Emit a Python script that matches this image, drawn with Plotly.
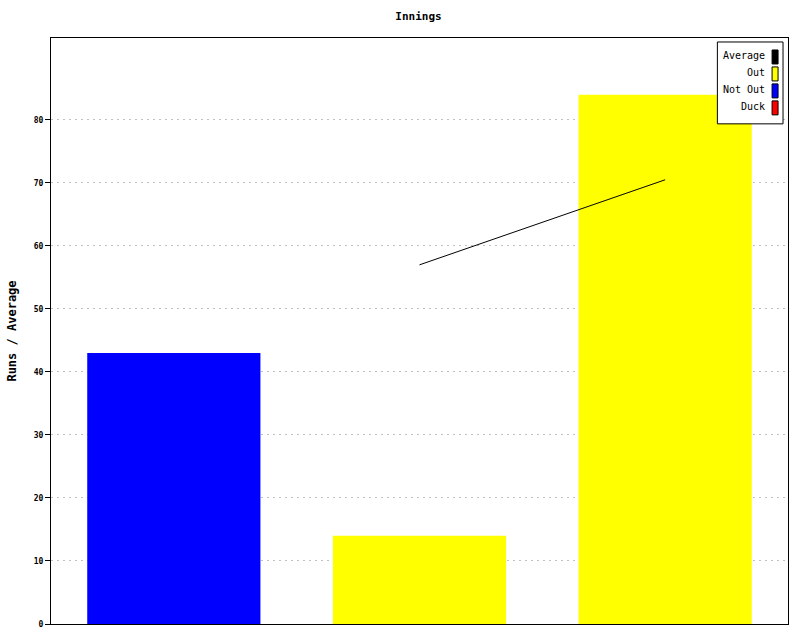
import plotly.graph_objects as go

# ---- data ----
innings = [1, 2, 3]
runs = [43, 14, 84]
outcome = ["Not Out", "Out", "Out"]
avg_innings = [2, 3]
average = [57, 70.5]
legend_labels = ["Average", "Out", "Not Out", "Duck"]
legend_colors = ["#000000", "#ffff00", "#0000ff", "#ff0000"]
y_ticks = [0, 10, 20, 30, 40, 50, 60, 70, 80]

color_map = {"Not Out": "#0000ff", "Out": "#ffff00", "Duck": "#ff0000"}
bar_colors = [color_map[o] for o in outcome]

W, H = 800, 640
L, R, T, B = 48, 11, 38, 15
PW, PH = W - L - R, H - T - B

def px(x):
    return (x - L) / PW

def py(y):
    return (H - B - y) / PH

FONT = "DejaVu Sans Mono"

fig = go.Figure()
fig.add_trace(go.Bar(x=innings, y=runs, marker=dict(color=bar_colors, line=dict(width=0)),
                     showlegend=False, hoverinfo="y"))
fig.add_trace(go.Scatter(x=avg_innings, y=average, mode="lines",
                         line=dict(color="black", width=1), showlegend=False))

# custom legend (text right-aligned, swatch on right)
shapes = [dict(type="rect", xref="paper", yref="paper", x0=px(718), x1=px(784),
               y0=py(124), y1=py(42), line=dict(color="black", width=1), fillcolor="white", layer="above")]
annotations = []
for i, (lab, col) in enumerate(zip(legend_labels, legend_colors)):
    cy = 57 + i * 17
    shapes.append(dict(type="rect", xref="paper", yref="paper", x0=px(773), x1=px(779),
                       y0=py(cy + 7), y1=py(cy - 7), line=dict(color="black", width=1),
                       fillcolor=col, layer="above"))
    annotations.append(dict(text=lab, xref="paper", yref="paper", x=px(768), y=py(cy - 1),
                            xanchor="right", yanchor="middle", showarrow=False,
                            font=dict(family=FONT, size=10, color="black")))

fig.update_layout(
    width=W, height=H,
    margin=dict(l=L, r=R, t=T, b=B, pad=0),
    paper_bgcolor="white", plot_bgcolor="white",
    title=dict(text="<b>Innings</b>", x=0.5 * (L + (W - R)) / W, y=1 - 16 / H,
               xanchor="center", yanchor="middle",
               font=dict(family=FONT, size=11, color="black")),
    bargap=0.295,
    shapes=shapes,
    annotations=annotations,
    xaxis=dict(range=[0.5, 3.5], showticklabels=False, ticks="", showgrid=False,
               zeroline=False, showline=True, linecolor="black", linewidth=1, mirror=True),
    yaxis=dict(range=[0, 93], tickvals=y_ticks, ticktext=[f"<b>{v}</b>" for v in y_ticks],
               ticks="outside", ticklen=5, tickcolor="black", tickwidth=1,
               tickfont=dict(family=FONT, size=8, color="black"),
               showgrid=True, gridcolor="#c0c0c0", griddash="2px,4px", gridwidth=1,
               zeroline=False, showline=True, linecolor="black", linewidth=1, mirror=True,
               title=dict(text="<b>Runs / Average</b>", standoff=14,
                          font=dict(family=FONT, size=12, color="black"))),
)

fig.write_html("out.html", config={"displayModeBar": False},
               post_script="document.body.style.margin='0';")
